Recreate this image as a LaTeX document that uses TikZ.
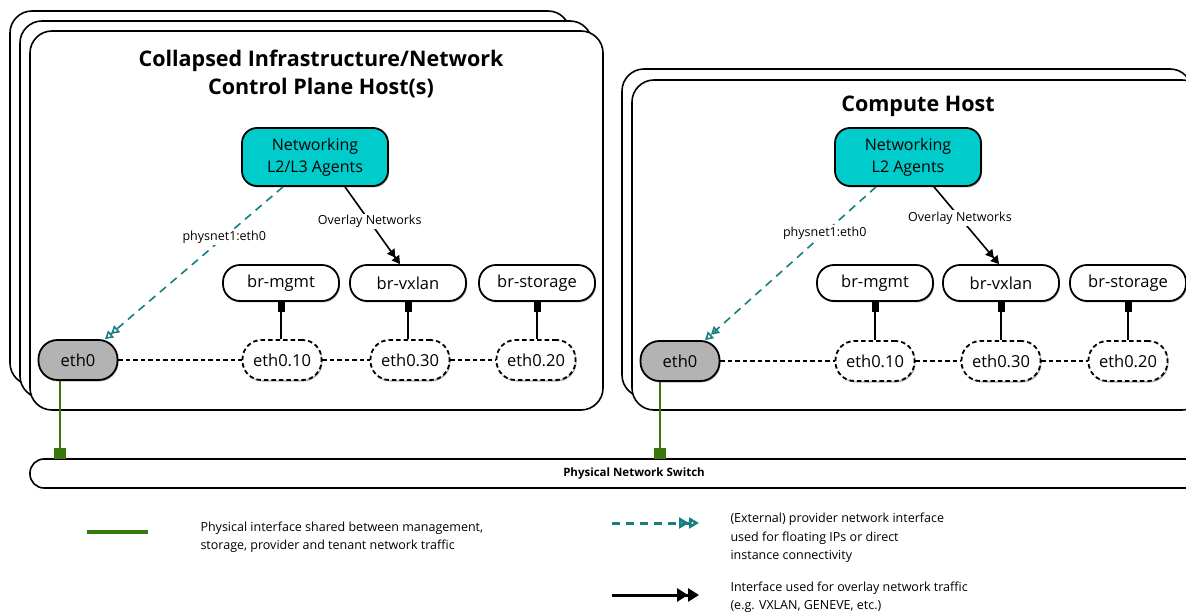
\documentclass[tikz,border=0pt]{standalone}
\usepackage{fontspec}
\setmainfont{Open Sans}
\usetikzlibrary{arrows.meta,shadows}

\definecolor{agentcyan}{RGB}{0,204,204}
\definecolor{ethgray}{RGB}{179,179,179}
\definecolor{physgreen}{RGB}{56,118,14}
\definecolor{provteal}{RGB}{22,128,128}

\tikzset{
  host/.style={draw, line width=1.6pt, rounded corners=22pt, fill=white},
  hosttitle/.style={align=center, font=\fontsize{21.5}{28}\selectfont\bfseries},
  softshadow/.style={drop shadow={shadow xshift=1pt, shadow yshift=-1.5pt, opacity=0.3, fill=black}},
  agent/.style={draw, line width=1.8pt, rounded corners=15pt, fill=agentcyan, softshadow,
    minimum width=146pt, minimum height=58pt, align=center, font=\fontsize{16}{22}\selectfont},
  bridge/.style={draw, line width=1.8pt, rounded corners=17pt, fill=white, softshadow,
    minimum width=116pt, minimum height=36pt, font=\fontsize{16.5}{20}\selectfont},
  physif/.style={draw, line width=1.8pt, rounded corners=19pt, fill=ethgray, softshadow,
    minimum width=79pt, minimum height=40pt, font=\fontsize{16.5}{20}\selectfont},
  vlanif/.style={physif, fill=white, dash pattern=on 4.5pt off 3pt},
  trunk/.style={line width=1.6pt, dash pattern=on 4.5pt off 3pt},
  port/.style={line width=1.6pt, {Square[length=10pt,width=7pt]}-},
  uplink/.style={physgreen, line width=2.6pt, -{Square[length=11pt,width=12pt]}},
  provarrow/.style={provteal, line width=1.6pt, dash pattern=on 8pt off 6pt,
    -{Triangle[open,length=8pt,width=9pt]Triangle[open,length=8pt,width=9pt]}},
  ovlarrow/.style={line width=1.6pt, -{Triangle[length=8pt,width=9pt]Triangle[length=8pt,width=9pt]}},
  lbl/.style={fill=white, text=black, inner sep=1.5pt, font=\fontsize{12.5}{15}\selectfont},
  legtext/.style={anchor=west, align=left, font=\fontsize{12.5}{18.5}\selectfont},
}

\begin{document}
\begin{tikzpicture}[x=1pt, y=-1pt]
\useasboundingbox (0,0) rectangle (1186,612);

% Control plane host stack
\draw[host] (10,11) rectangle (570,385);
\draw[host] (20,21) rectangle (592,398);
\draw[host] (30,31) rectangle (603,410);
\node[hosttitle] (titleL) at (321,74) {Collapsed Infrastructure/Network\\Control Plane Host(s)};

% Compute host stack
\draw[host] (622,69) rectangle (1192,397);
\draw[host] (632,80) rectangle (1204,410);
\node[hosttitle] (titleR) at (918,106) {Compute Host};

% Switch
\draw[line width=1.6pt, rounded corners=14pt, fill=white] (30,459) rectangle (1238,488);
\node[font=\fontsize{11.5}{14}\selectfont\bfseries] (switch) at (634,473.5) {Physical Network Switch};
\coordinate (swtop) at (634,459);

% Control plane host nodes
\node[agent] (agentL) at (315,157) {Networking\\L2/L3 Agents};
\node[bridge] (mgmtL) at (281,283) {br-mgmt};
\node[bridge] (vxlanL) at (408,283) {br-vxlan};
\node[bridge] (storL) at (537,283) {br-storage};
\node[physif] (ethL) at (78,360) {eth0};
\node[vlanif] (v10L) at (282,360) {eth0.10};
\node[vlanif] (v30L) at (410,360) {eth0.30};
\node[vlanif] (v20L) at (536,360) {eth0.20};

% Compute host nodes
\node[agent] (agentR) at (908,157) {Networking\\L2 Agents};
\node[bridge] (mgmtR) at (875,283) {br-mgmt};
\node[bridge] (vxlanR) at (1001,283) {br-vxlan};
\node[bridge] (storR) at (1128,283) {br-storage};
\node[physif] (ethR) at (680,361) {eth0};
\node[vlanif] (v10R) at (875,361) {eth0.10};
\node[vlanif] (v30R) at (1001,361) {eth0.30};
\node[vlanif] (v20R) at (1128,361) {eth0.20};

% VLAN trunks
\draw[trunk] (ethL) -- (v10L) -- (v30L) -- (v20L);
\draw[trunk] (ethR) -- (v10R) -- (v30R) -- (v20R);

% Bridge ports
\draw[port] (mgmtL.south) -- (mgmtL.south |- v10L.north);
\draw[port] (vxlanL.south) -- (vxlanL.south |- v30L.north);
\draw[port] (storL.south) -- (storL.south |- v20L.north);
\draw[port] (mgmtR.south) -- (mgmtR.south |- v10R.north);
\draw[port] (vxlanR.south) -- (vxlanR.south |- v30R.north);
\draw[port] (storR.south) -- (storR.south |- v20R.north);

% Agent links
\draw[provarrow] ([xshift=-32pt]agentL.south) -- node[lbl, pos=0.33] (physnetL) {physnet1:eth0} ([xshift=27pt]ethL.north);
\draw[ovlarrow] ([xshift=30pt]agentL.south) -- node[lbl, pos=0.45] (ovlL) {Overlay Networks} ([xshift=-8pt]vxlanL.north);
\draw[provarrow] ([xshift=-32pt]agentR.south) -- node[lbl, pos=0.3] (physnetR) {physnet1:eth0} ([xshift=25pt]ethR.north);
\draw[ovlarrow] ([xshift=26pt]agentR.south) -- node[lbl, pos=0.4] (ovlR) {Overlay Networks} ([xshift=-2pt]vxlanR.north);

% Uplinks
\draw[uplink] ([xshift=-18pt]ethL.south) -- ([xshift=-18pt]ethL.south |- swtop);
\draw[uplink] ([xshift=-20pt]ethR.south) -- ([xshift=-20pt]ethR.south |- swtop);

% Legend
\coordinate (legPhysA) at (87,532);
\coordinate (legPhysB) at (148,532);
\draw[physgreen, line width=3.2pt] (legPhysA) -- (legPhysB);
\node[legtext] (legPhys) at (197,537) {Physical interface shared between management,\\storage, provider and tenant network traffic};

\coordinate (legProvA) at (612,523);
\coordinate (legProvB) at (699,523);
\draw[provteal, line width=3pt, dash pattern=on 8pt off 6pt,
  -{Triangle[open,length=10pt,width=11pt]Triangle[open,length=10pt,width=11pt]}] (legProvA) -- (legProvB);
\node[legtext] (legProv) at (727,538) {(External) provider network interface\\used for floating IPs or direct\\instance connectivity};

\coordinate (legOvlA) at (612,595);
\coordinate (legOvlB) at (699,595);
\draw[line width=3pt, -{Triangle[length=11pt,width=13pt]Triangle[length=11pt,width=13pt]}] (legOvlA) -- (legOvlB);
\node[legtext] (legOvl) at (727,597) {Interface used for overlay network traffic\\(e.g. VXLAN, GENEVE, etc.)};
\end{tikzpicture}
\end{document}
